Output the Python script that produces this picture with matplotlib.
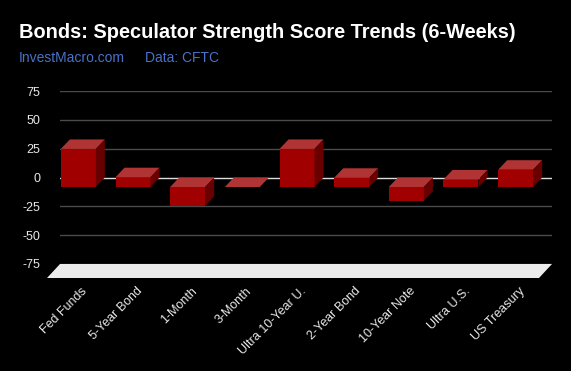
import matplotlib
matplotlib.use("Agg")
import matplotlib.pyplot as plt
from matplotlib.patches import Polygon

# data
categories = ["Fed Funds", "5-Year Bond", "1-Month", "3-Month", "Ultra 10-Year U.",
              "2-Year Bond", "10-Year Note", "Ultra U.S.", "US Treasury"]
scores = [33, 8.5, -16.5, 0, 33, 8, -12, 6.5, 15]
y_ticks = [-75, -50, -25, 0, 25, 50, 75]

W, H = 571, 371
fig = plt.figure(figsize=(W / 100, H / 100), dpi=100, facecolor="black")
plt.rcParams["font.family"] = ["Liberation Sans", "DejaVu Sans"]

# back wall of the 3d plot
ax = fig.add_axes([60 / W, (H - 264) / H, 492 / W, 173 / H], facecolor="black")
ax.set_xlim(-0.5, len(categories) - 0.5)
ax.set_ylim(-75, 75)
for s in ax.spines.values():
    s.set_visible(False)

px_x = 492 / len(categories)   # pixels per category
px_y = 173 / 150               # pixels per score unit
bdx, bdy = 9 / px_x, 9.5 / px_y   # bar depth
fdx, fdy = 13 / px_x, 14 / px_y   # floor depth
bw = 35 / px_x

# floor
x0, x1 = -0.5, len(categories) - 0.5
ax.add_patch(Polygon([(x0, -75), (x1, -75), (x1 - fdx, -75 - fdy), (x0 - fdx, -75 - fdy)],
                     closed=True, facecolor="#ececec", edgecolor="none", clip_on=False, zorder=1))

for t in y_ticks:
    ax.axhline(t, color="#dddddd" if t == 0 else "#4a4a4a", lw=1, zorder=2 if t != -75 else 1.5)

front, top, side = "#a00000", "#b03434", "#680000"
for i, v in enumerate(scores):
    lo, hi = min(v, 0), max(v, 0)
    xl, xr = i - bw / 2, i + bw / 2
    ax.add_patch(Polygon([(xl - bdx, lo - bdy), (xr - bdx, lo - bdy), (xr - bdx, hi - bdy), (xl - bdx, hi - bdy)],
                         facecolor=front, edgecolor="none", clip_on=False, zorder=5))
    ax.add_patch(Polygon([(xl - bdx, hi - bdy), (xr - bdx, hi - bdy), (xr, hi), (xl, hi)],
                         facecolor=top, edgecolor="none", clip_on=False, zorder=5))
    if hi > lo:
        ax.add_patch(Polygon([(xr - bdx, lo - bdy), (xr, lo), (xr, hi), (xr - bdx, hi - bdy)],
                             facecolor=side, edgecolor="none", clip_on=False, zorder=5))

ax.set_yticks(y_ticks)
ax.set_yticklabels([str(t) for t in y_ticks])
ax.tick_params(axis="y", length=0, pad=14, labelcolor="#e8e8e8", labelsize=9)
ax.set_xticks([i - bdx + 3 / px_x for i in range(len(categories))])
ax.set_xticklabels(categories, rotation=45, ha="right", rotation_mode="anchor")
ax.tick_params(axis="x", length=0, pad=15, labelcolor="#e8e8e8", labelsize=9)

fig.text(19 / W, 1 - 32 / H, "Bonds: Speculator Strength Score Trends (6-Weeks)",
         color="white", fontsize=14.4, fontweight="bold", va="center", ha="left")
fig.text(19 / W, 1 - 58 / H, "InvestMacro.com", color="#4a72c8", fontsize=10, va="center", ha="left")
fig.text(145 / W, 1 - 58 / H, "Data: CFTC", color="#4a72c8", fontsize=10, va="center", ha="left")

fig.savefig("out.png", dpi=100, facecolor="black")
